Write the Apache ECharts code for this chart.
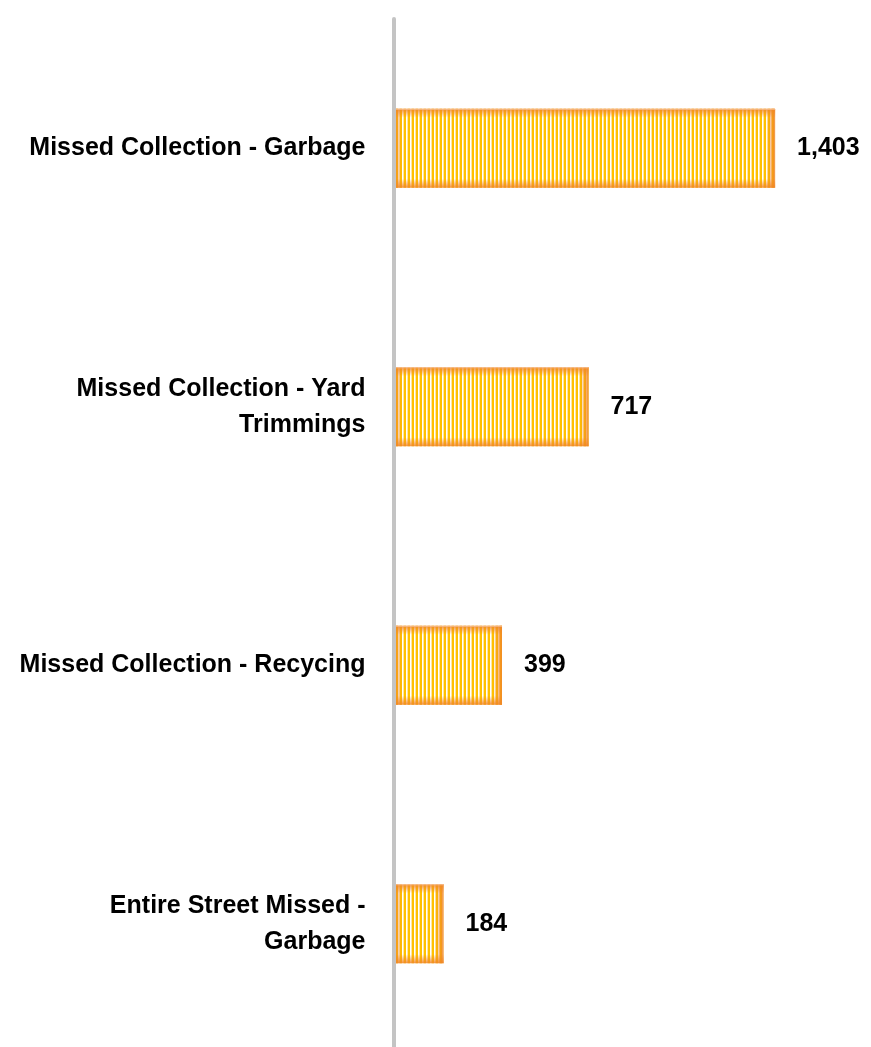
<!DOCTYPE html>
<html>
<head>
<meta charset="utf-8">
<script src="https://cdn.jsdelivr.net/npm/echarts@6/dist/echarts.min.js"></script>
<style>
html,body{margin:0;padding:0;background:#fff;overflow:hidden;width:871px;height:1047px;}
#chart{width:871px;height:1060px;}
</style>
</head>
<body>
<div id="chart"></div>
<script>
const categories = ["Missed Collection - Garbage", "Missed Collection - Yard Trimmings", "Missed Collection - Recycing", "Entire Street Missed - Garbage"];
const tickLabels = ["Missed Collection - Garbage", "Missed Collection - Yard\nTrimmings", "Missed Collection - Recycing", "Entire Street Missed -\nGarbage"];
const counts = [1403, 717, 399, 184];

const FONT = '"Liberation Sans", Arial, sans-serif';

// striped fill pattern
const pat = document.createElement('canvas');
pat.width = 4; pat.height = 4;
const pctx = pat.getContext('2d');
pctx.fillStyle = '#FFC000'; pctx.fillRect(0, 0, 2, 4);
pctx.fillStyle = '#ffffff'; pctx.fillRect(2, 0, 1, 4);
pctx.fillStyle = '#FFE7A0'; pctx.fillRect(3, 0, 1, 4);

const BAR_H = 79;
const GLOW = 9;
const glowColor = 'rgba(240,135,40,0.9)';
function grad(x, y, x2, y2) {
  return new echarts.graphic.LinearGradient(x, y, x2, y2, [
    {offset: 0, color: glowColor},
    {offset: 1, color: 'rgba(240,135,40,0)'}
  ]);
}

const chart = echarts.init(document.getElementById('chart'), null, {renderer: 'canvas'});
chart.setOption({
  animation: false,
  backgroundColor: '#ffffff',
  grid: {left: 393.5, right: 42.3, top: 19, bottom: 7, containLabel: false},
  xAxis: {
    type: 'value', min: 0, max: 1600, show: false
  },
  yAxis: {
    type: 'category', inverse: true, data: categories, z: 5,
    axisLine: {show: true, lineStyle: {color: '#C4C4C4', width: 4}},
    axisTick: {show: false},
    splitLine: {show: false},
    axisLabel: {
      margin: 28, color: '#000', fontSize: 25, fontWeight: 'bold', fontFamily: FONT,
      lineHeight: 36, align: 'right',
      formatter: function (v, i) { return tickLabels[i]; }
    }
  },
  series: [
    {
      type: 'bar', data: counts, barWidth: BAR_H, z: 2,
      itemStyle: {color: {image: pat, repeat: 'repeat'}},
      label: {
        show: true, position: 'right', distance: 22, color: '#000',
        fontSize: 25, fontWeight: 'bold', fontFamily: FONT,
        formatter: function (p) { return p.value.toLocaleString('en-US'); }
      }
    },
    {
      type: 'custom', z: 3, silent: true,
      data: counts.map(function (v, i) { return [v, i]; }),
      encode: {x: 0, y: 1},
      renderItem: function (params, api) {
        const v = api.value(0), c = api.value(1);
        const s = api.coord([0, c]);
        const e = api.coord([v, c]);
        const x0 = s[0], w = e[0] - s[0];
        const y0 = s[1] - BAR_H / 2;
        return {
          type: 'group',
          children: [
            {type: 'rect', shape: {x: x0, y: y0, width: w, height: GLOW}, style: {fill: grad(0, 0, 0, 1)}},
            {type: 'rect', shape: {x: x0, y: y0 + BAR_H - GLOW, width: w, height: GLOW}, style: {fill: grad(0, 1, 0, 0)}},
            {type: 'rect', shape: {x: x0, y: y0, width: GLOW, height: BAR_H}, style: {fill: grad(0, 0, 1, 0)}},
            {type: 'rect', shape: {x: x0 + w - GLOW, y: y0, width: GLOW, height: BAR_H}, style: {fill: grad(1, 0, 0, 0)}},
            {type: 'rect', shape: {x: x0, y: y0, width: w, height: 1}, style: {fill: 'rgba(248,200,170,0.8)'}}
          ]
        };
      }
    }
  ]
});
</script>
</body>
</html>
